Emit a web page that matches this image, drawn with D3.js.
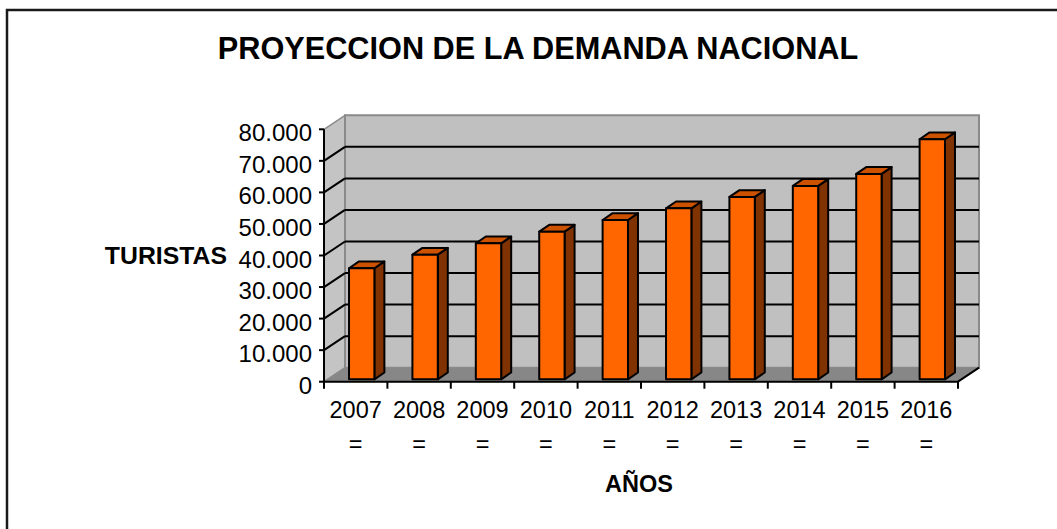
<!DOCTYPE html>
<html>
<head>
<meta charset="utf-8">
<script src="https://cdn.jsdelivr.net/npm/d3@7"></script>
<style>
  html, body { margin: 0; padding: 0; background: #ffffff; }
  svg { display: block; font-family: "Liberation Sans", Arial, sans-serif; }
</style>
</head>
<body>
<svg id="chart" width="1057" height="529"></svg>
<script>
// ---- data ----
const categories = ["2007", "2008", "2009", "2010", "2011", "2012", "2013", "2014", "2015", "2016"];
const turistas = [35200, 39500, 43100, 46800, 50500, 54200, 57800, 61300, 65100, 76100];
const yTicks = [0, 10000, 20000, 30000, 40000, 50000, 60000, 70000, 80000];
const yTickLabels = ["0", "10.000", "20.000", "30.000", "40.000", "50.000", "60.000", "70.000", "80.000"];
const titleText = "PROYECCION DE LA DEMANDA NACIONAL";
const yTitle = "TURISTAS";
const xTitle = "AÑOS";
const subLabel = "=";

// ---- layout ----
const svg = d3.select("#chart");
const x0 = 324, x1 = 958, yBase = 381.7, yTop = 129.3;
const depthX = 21, depthY = 14;          // 3D depth of the floor/walls
const barOffX = 6, barOffY = 2.4;         // bar front face position inside the depth
const barDX = 10, barDY = 6.8;            // bar depth

const x = d3.scaleBand().domain(categories).range([x0, x1]).padding(0);
const y = d3.scaleLinear().domain([0, 80000]).range([yBase, yTop]);
const bw = x.bandwidth() * 0.4;

// frame
svg.append("rect").attr("x", 7).attr("y", 10).attr("width", 1100).attr("height", 600)
  .attr("fill", "#ffffff").attr("stroke", "#1a1a1a").attr("stroke-width", 2.5);

// title
svg.append("text").attr("x", 538).attr("y", 59).attr("text-anchor", "middle")
  .attr("font-size", 30.7).attr("font-weight", "bold").attr("fill", "#000").text(titleText);

const edge = "#8a8a8a";
// side wall
svg.append("polygon")
  .attr("points", [[x0, yBase], [x0, yTop], [x0 + depthX, yTop - depthY], [x0 + depthX, yBase - depthY]].join(" "))
  .attr("fill", "#c4c4c4").attr("stroke", edge).attr("stroke-width", 1.5);
// back wall
svg.append("polygon")
  .attr("points", [[x0 + depthX, yBase - depthY], [x0 + depthX, yTop - depthY], [x1 + depthX, yTop - depthY], [x1 + depthX, yBase - depthY]].join(" "))
  .attr("fill", "#c0c0c0").attr("stroke", edge).attr("stroke-width", 2);
// floor
svg.append("polygon")
  .attr("points", [[x0, yBase], [x1, yBase], [x1 + depthX, yBase - depthY], [x0 + depthX, yBase - depthY]].join(" "))
  .attr("fill", "#878787").attr("stroke", edge).attr("stroke-width", 1);

// gridlines
const inner = yTicks.filter(v => v > 0 && v < 80000);
svg.append("g").selectAll("line.back").data(inner).join("line")
  .attr("x1", x0 + depthX).attr("x2", x1 + depthX)
  .attr("y1", d => y(d) - depthY).attr("y2", d => y(d) - depthY)
  .attr("stroke", "#000").attr("stroke-width", 2);
svg.append("g").selectAll("line.side").data(inner).join("line")
  .attr("x1", x0).attr("x2", x0 + depthX)
  .attr("y1", d => y(d)).attr("y2", d => y(d) - depthY)
  .attr("stroke", "#000").attr("stroke-width", 2);

// floor front edge and right diagonal
svg.append("line").attr("x1", x0).attr("x2", x1).attr("y1", yBase).attr("y2", yBase)
  .attr("stroke", "#000").attr("stroke-width", 2);
svg.append("line").attr("x1", x1).attr("x2", x1 + depthX).attr("y1", yBase).attr("y2", yBase - depthY)
  .attr("stroke", "#000").attr("stroke-width", 2);

// y axis line + ticks
svg.append("line").attr("x1", x0).attr("x2", x0).attr("y1", yTop).attr("y2", yBase)
  .attr("stroke", "#000").attr("stroke-width", 2);
svg.append("g").selectAll("line").data(yTicks).join("line")
  .attr("x1", x0 - 5).attr("x2", x0).attr("y1", d => y(d)).attr("y2", d => y(d))
  .attr("stroke", "#000").attr("stroke-width", 2);
svg.append("g").selectAll("text").data(yTicks).join("text")
  .attr("x", 312).attr("y", d => y(d) + 12).attr("text-anchor", "end")
  .attr("font-size", 24).attr("fill", "#000").text((d, i) => yTickLabels[i]);

// x ticks at category boundaries
const bounds = categories.map(c => x(c)).concat([x1]);
svg.append("g").selectAll("line").data(bounds).join("line")
  .attr("x1", d => d).attr("x2", d => d).attr("y1", yBase).attr("y2", yBase + 7)
  .attr("stroke", "#000").attr("stroke-width", 2);

// bars
const bars = svg.append("g");
categories.forEach((c, i) => {
  const v = turistas[i];
  const xl = x(c) + (x.bandwidth() - bw) / 2 + barOffX;
  const xr = xl + bw;
  const yb = y(0) - barOffY;
  const yt = y(v) - barOffY;
  const g = bars.append("g").attr("stroke", "#000").attr("stroke-width", 2).attr("stroke-linejoin", "round");
  g.append("polygon").attr("points", [[xr, yt], [xr + barDX, yt - barDY], [xr + barDX, yb - barDY], [xr, yb]].join(" "))
    .attr("fill", "#803300");
  g.append("polygon").attr("points", [[xl, yt], [xl + barDX, yt - barDY], [xr + barDX, yt - barDY], [xr, yt]].join(" "))
    .attr("fill", "#cc5200");
  g.append("rect").attr("x", xl).attr("y", yt).attr("width", bw).attr("height", yb - yt)
    .attr("fill", "#ff6600");
});

// x labels
const xl = svg.append("g");
xl.selectAll("text.yr").data(categories).join("text")
  .attr("x", d => x(d) + x.bandwidth() / 2).attr("y", 418).attr("text-anchor", "middle")
  .attr("font-size", 23.5).attr("fill", "#000").text(d => d);
xl.selectAll("text.eq").data(categories).join("text")
  .attr("x", d => x(d) + x.bandwidth() / 2).attr("y", 452).attr("text-anchor", "middle")
  .attr("font-size", 23.5).attr("fill", "#000").text(subLabel);

// axis titles
svg.append("text").attr("x", 227).attr("y", 264).attr("text-anchor", "end")
  .attr("font-size", 24.8).attr("font-weight", "bold").attr("fill", "#000").text(yTitle);
svg.append("text").attr("x", 639).attr("y", 492).attr("text-anchor", "middle")
  .attr("font-size", 23.5).attr("font-weight", "bold").attr("fill", "#000").text(xTitle);
</script>
</body>
</html>
